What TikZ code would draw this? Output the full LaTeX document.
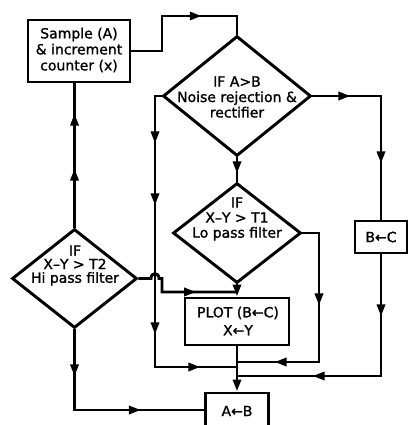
\documentclass[tikz,border=0pt]{standalone}
\usepackage{fontspec}
\setmainfont[FakeBold=1.3]{DejaVu Sans}
\usetikzlibrary{shapes.geometric,arrows.meta,decorations.markings}
\begin{document}
\begin{tikzpicture}[x=0.75pt,y=-0.75pt,
  line width=2.2pt,
  txt/.style={font=\fontsize{10.5}{#1}\selectfont, align=center, inner sep=0pt},
  txt/.default=11.6pt,
  procbox/.style={draw, rectangle, inner sep=0pt, line width=2.2pt},
  decide/.style={draw, diamond, inner sep=0pt, line width=2.2pt},
  endtip/.style={-{Triangle[length=9pt,width=6pt]}},
  am/.style={postaction={decorate,decoration={markings,mark=at position #1 with {\arrow{Triangle[length=9pt,width=6pt]}}}}}
]
\path[use as bounding box] (0,0) rectangle (409,425);
\clip (0,0) rectangle (409,425);

% boxes
\node[procbox, minimum width=76.5pt, minimum height=46.5pt] (sample) at (79,51) {};
\node[txt=12pt] (sampletxt) at (79,50) {Sample (A)\\\& increment\\counter (x)};
\node[procbox, minimum width=78pt, minimum height=35.25pt] (plot) at (237,321.5) {};
\node[txt=13.5pt] (plottxt) at (238,321) {PLOT (B←C)\\X←Y};
\node[procbox, minimum width=39pt, minimum height=24pt] (bc) at (381,237) {};
\node[txt] (bctxt) at (381,237) {B←C};
\node[procbox, minimum width=47.25pt, minimum height=28.5pt] (ab) at (237,412) {};
\node[txt] (abtxt) at (237,411) {A←B};

% decisions
\node[decide, minimum width=111pt, minimum height=90pt] (d1) at (237,96) {};
\node[txt=11.6pt] (d1txt) at (237,97) {IF A>B\\Noise rejection \&\\rectifier};
\node[decide, minimum width=96pt, minimum height=75pt] (d2) at (237,233) {};
\node[txt=11.25pt] (d2txt) at (237,219) {IF\\X–Y > T1\\Lo pass filter};
\node[decide, minimum width=93.75pt, minimum height=74.25pt] (d3) at (74.5,278.5) {};
\node[txt=10.2pt] (d3txt) at (75,265.5) {IF\\X–Y > T2\\Hi pass filter};

% coordinates
\coordinate (c1) at (162,51);
\coordinate (c2) at (162,16);
\coordinate (c3) at (237,16);
\coordinate (c4) at (155,96);
\coordinate (c5) at (155,367);
\coordinate (mleft) at (237,367);
\coordinate (c6) at (381,96);
\coordinate (c7) at (319,233);
\coordinate (c8) at (319,362);
\coordinate (mlo) at (237,362);
\coordinate (h1) at (151,278.5);
\coordinate (hc1) at (151,272);
\coordinate (hc2) at (159,272);
\coordinate (h2) at (159,278.5);
\coordinate (c9) at (162,278.5);
\coordinate (c10) at (162,292);
\coordinate (mhi) at (237,292);
\coordinate (c11) at (74.5,410);
\coordinate (c12) at (381,376);
\coordinate (mb) at (237,376);

% connectors
\draw[am=79pt] (sample.east) -- (c1) -- (c2) -- (c3) -- (d1.north);
\draw[am=40.5pt, am=87pt, am=183.75pt, am=242.25pt] (d1.west) -- (c4) -- (c5) -- (mleft);
\draw[am=28.5pt, am=102pt] (d1.east) -- (c6) -- (bc.north);
\draw[am=12pt] (d1.south) -- (d2.north);
\draw[am=66.75pt, am=142.5pt] (d2.east) -- (c7) -- (c8) -- (mlo);
\draw[endtip] (d2.south) -- (plot.north);
\draw[am=58pt] (d3.east) -- (h1) .. controls (hc1) and (hc2) .. (h2) -- (c9) -- (c10) -- (mhi);
\draw[am=44.25pt, am=85.5pt] (d3.north) -- (d3.north |- sample.south);
\draw[am=35.25pt, am=110.25pt] (d3.south) -- (c11) -- (c11 -| ab.west);
\draw[endtip] (plot.south) -- (ab.north);
\draw[am=46.5pt, am=142.5pt] (bc.south) -- (c12) -- (mb);
\end{tikzpicture}
\end{document}
